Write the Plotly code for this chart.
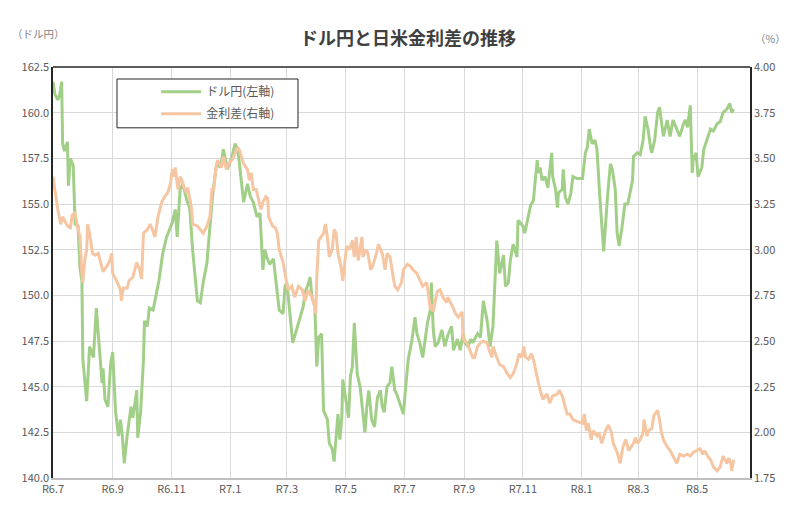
import pandas as pd
import plotly.graph_objects as go

START = "2024-07-01"

# ドル円 (left axis): day offsets from START and values
usd_days = [0, 2, 5, 7, 9, 10, 12, 15, 16, 18, 21, 23, 26, 28, 30, 31, 35, 37, 38, 42, 45, 48, 51, 52, 54, 57,
            60, 62, 65, 68, 70, 72, 74, 77, 81, 83, 87, 88, 91, 94, 95, 98, 100, 104, 108, 110, 114, 118, 124,
            127, 129, 132, 135, 139, 142, 145, 150, 153, 156, 160, 161, 166, 170, 174, 177, 181, 186, 189, 192,
            196, 198, 202, 205, 208, 212, 215, 218, 220, 222, 225, 229, 233, 235, 239, 241, 243, 246, 249, 254,
            257, 260, 262, 265, 267, 269, 272, 274, 276, 279, 281, 285, 287, 290, 292, 295, 296, 298, 300, 301,
            303, 307, 309, 311, 313, 316, 319, 322, 324, 326, 328, 331, 334, 337, 340, 342, 344, 347, 350, 352,
            355, 357, 361, 364, 366, 369, 373, 376, 378, 381, 384, 389, 392, 393, 395, 397, 400, 404, 407, 410,
            414, 416, 420, 423, 426, 428, 431, 434, 436, 441, 444, 447, 451, 454, 457, 459, 461, 464, 468, 470,
            473, 475, 478, 482, 483, 485, 488, 490, 494, 496, 499, 503, 504, 506, 508, 511, 514, 518, 519, 522,
            524, 525, 529, 530, 532, 535, 538, 540, 544, 550, 553, 555, 557, 560, 563, 565, 568, 571, 572, 576,
            579, 581, 584, 586, 588, 591, 594, 597, 602, 603, 607, 610, 613, 615, 618, 621, 622, 625, 628, 630,
            633, 634, 638, 641, 644, 648, 651, 655, 657, 659, 662, 663, 664, 665, 668, 670, 674, 676, 680, 683,
            686, 690, 693, 696, 700, 703, 705, 707]
usd_jpy = [161.7, 161.0, 160.7, 161.0, 161.7, 158.3, 157.9, 158.4, 156.0, 157.5, 157.1, 153.9, 153.8, 151.5,
           150.8, 146.5, 144.2, 146.6, 147.2, 146.6, 149.3, 147.2, 145.2, 146.0, 144.3, 143.9, 146.3, 146.9,
           143.6, 142.3, 143.2, 142.3, 140.8, 142.3, 143.9, 143.3, 144.8, 142.2, 143.6, 146.5, 148.6, 148.3,
           149.3, 149.2, 150.2, 150.8, 152.3, 153.2, 154.0, 154.7, 153.2, 155.8, 156.1, 155.2, 154.8, 152.5,
           149.7, 149.6, 150.7, 151.8, 152.5, 155.6, 157.2, 157.0, 158.0, 156.9, 157.6, 158.3, 158.0, 155.8,
           155.1, 156.1, 155.4, 155.1, 154.3, 154.5, 151.4, 152.5, 152.1, 151.7, 152.0, 150.1, 149.2, 149.0,
           150.5, 150.7, 149.2, 147.4, 148.3, 148.8, 149.4, 150.2, 150.6, 151.0, 149.9, 149.4, 146.1, 147.7,
           147.9, 143.7, 143.2, 141.9, 141.6, 140.9, 143.3, 143.5, 142.1, 143.3, 145.4, 144.6, 143.3, 145.6,
           146.1, 148.5, 145.7, 145.0, 143.7, 142.5, 143.9, 144.8, 143.2, 142.8, 144.4, 144.8, 143.9, 143.6,
           145.0, 145.2, 146.1, 144.8, 144.6, 143.9, 143.5, 144.8, 146.5, 147.6, 148.8, 147.9, 147.4, 146.6,
           148.5, 149.2, 150.7, 148.1, 147.2, 147.4, 148.1, 147.2, 147.8, 148.3, 147.0, 147.6, 147.0, 147.9,
           147.4, 147.2, 147.6, 147.4, 147.9, 147.7, 149.7, 148.6, 147.2, 148.3, 150.7, 153.0, 151.2, 152.2,
           150.5, 150.7, 151.9, 152.8, 152.1, 154.1, 154.0, 153.8, 153.4, 154.5, 154.9, 155.2, 157.4, 156.7,
           157.0, 156.3, 156.5, 155.9, 157.8, 156.5, 155.8, 154.8, 155.6, 155.8, 156.9, 155.4, 155.0, 155.6,
           156.5, 156.4, 156.4, 157.8, 158.1, 159.1, 158.3, 158.5, 158.0, 155.4, 153.2, 152.4, 155.4, 157.2,
           156.9, 155.8, 153.4, 152.7, 153.7, 155.0, 155.0, 156.3, 157.6, 157.8, 157.7, 158.5, 159.8, 159.1,
           158.0, 157.8, 158.5, 160.0, 160.3, 159.2, 158.7, 159.6, 158.7, 159.6, 159.1, 158.7, 159.4, 159.6,
           159.2, 160.4, 158.5, 156.7, 157.4, 157.8, 156.5, 157.0, 158.0, 158.7, 159.1, 159.0, 159.4, 159.5,
           160.0, 160.2, 160.5, 160.0, 160.2]

# 金利差 (right axis): day offsets from START and values (%)
spread_days = [0, 2, 4, 5, 8, 10, 15, 18, 20, 23, 25, 28, 30, 31, 33, 35, 36, 38, 41, 44, 47, 51, 52, 56, 59,
               61, 62, 66, 70, 71, 73, 77, 79, 83, 87, 90, 92, 94, 98, 101, 106, 109, 113, 116, 119, 122, 124,
               125, 127, 129, 130, 132, 134, 136, 139, 140, 142, 144, 145, 150, 153, 156, 160, 163, 165, 167,
               169, 171, 175, 177, 180, 182, 186, 189, 192, 194, 196, 198, 202, 204, 206, 208, 211, 213, 216,
               218, 221, 223, 224, 228, 231, 233, 235, 239, 242, 244, 248, 251, 255, 259, 262, 265, 269, 272,
               273, 274, 276, 281, 283, 285, 287, 290, 292, 294, 296, 299, 301, 303, 305, 308, 311, 313, 315,
               317, 321, 322, 325, 327, 330, 332, 336, 338, 342, 345, 347, 350, 353, 355, 358, 362, 364, 368,
               371, 374, 378, 381, 384, 388, 390, 392, 394, 395, 399, 402, 405, 409, 410, 415, 418, 421, 425,
               426, 430, 433, 436, 438, 441, 444, 447, 451, 453, 456, 457, 461, 464, 468, 472, 475, 478, 482,
               484, 487, 489, 491, 494, 497, 499, 503, 506, 509, 513, 516, 519, 524, 526, 529, 532, 534, 537,
               540, 544, 550, 552, 554, 556, 559, 561, 565, 567, 570, 574, 577, 580, 582, 586, 589, 592, 595,
               598, 603, 605, 607, 610, 613, 614, 617, 619, 622, 624, 628, 630, 632, 634, 638, 641, 644, 648,
               651, 655, 659, 662, 665, 669, 672, 675, 677, 680, 683, 686, 690, 693, 696, 698, 700, 702, 704,
               705, 707]
spread = [3.40, 3.33, 3.25, 3.22, 3.14, 3.18, 3.13, 3.12, 3.19, 3.20, 3.14, 3.07, 2.87, 2.82, 2.94, 3.00,
          3.14, 3.09, 2.98, 2.97, 2.98, 2.91, 2.88, 2.91, 2.94, 2.98, 2.87, 2.83, 2.78, 2.72, 2.79, 2.79, 2.83,
          2.85, 2.93, 2.89, 2.84, 3.09, 3.11, 3.14, 3.07, 3.18, 3.26, 3.29, 3.31, 3.36, 3.44, 3.40, 3.45, 3.36,
          3.33, 3.40, 3.38, 3.34, 3.31, 3.34, 3.29, 3.22, 3.14, 3.13, 3.11, 3.09, 3.13, 3.18, 3.33, 3.33, 3.44,
          3.49, 3.45, 3.51, 3.44, 3.47, 3.49, 3.53, 3.56, 3.54, 3.51, 3.47, 3.44, 3.38, 3.42, 3.33, 3.33, 3.29,
          3.22, 3.26, 3.29, 3.28, 3.18, 3.13, 3.12, 3.09, 3.00, 2.93, 2.83, 2.78, 2.80, 2.74, 2.80, 2.78, 2.72,
          2.78, 2.74, 2.69, 2.65, 2.85, 3.05, 3.09, 3.14, 3.07, 2.96, 3.00, 3.11, 3.09, 2.98, 2.91, 2.83, 2.93,
          3.02, 3.00, 3.05, 2.96, 3.07, 2.94, 3.07, 2.96, 3.00, 2.98, 2.89, 2.91, 2.98, 3.03, 2.98, 2.89, 2.98,
          2.96, 2.87, 2.80, 2.78, 2.82, 2.89, 2.92, 2.91, 2.89, 2.87, 2.83, 2.80, 2.82, 2.76, 2.67, 2.70, 2.66,
          2.77, 2.78, 2.74, 2.71, 2.74, 2.69, 2.65, 2.63, 2.66, 2.51, 2.49, 2.45, 2.41, 2.41, 2.47, 2.49, 2.50,
          2.49, 2.45, 2.41, 2.47, 2.41, 2.37, 2.36, 2.32, 2.30, 2.32, 2.38, 2.43, 2.41, 2.47, 2.41, 2.40, 2.43,
          2.40, 2.30, 2.23, 2.18, 2.21, 2.16, 2.20, 2.21, 2.23, 2.20, 2.14, 2.10, 2.10, 2.07, 2.06, 2.05, 2.10,
          2.01, 2.05, 1.96, 2.01, 1.98, 2.00, 1.94, 2.01, 2.04, 2.00, 1.94, 1.89, 1.83, 1.92, 1.96, 1.90, 1.94,
          1.97, 1.94, 1.96, 2.00, 2.07, 1.98, 2.01, 2.02, 2.09, 2.12, 2.07, 2.00, 1.96, 1.92, 1.90, 1.87, 1.83,
          1.88, 1.87, 1.88, 1.87, 1.89, 1.90, 1.91, 1.88, 1.90, 1.87, 1.85, 1.81, 1.79, 1.81, 1.87, 1.85, 1.83,
          1.86, 1.83, 1.79, 1.85]

tick_dates = ["2024-07-01", "2024-09-01", "2024-11-01", "2025-01-01", "2025-03-01", "2025-05-01",
              "2025-07-01", "2025-09-01", "2025-11-01", "2026-01-01", "2026-03-01", "2026-05-01"]
tick_labels = ["R6.7", "R6.9", "R6.11", "R7.1", "R7.3", "R7.5", "R7.7", "R7.9", "R7.11", "R8.1", "R8.3", "R8.5"]
x_end = "2026-06-25"

start = pd.Timestamp(START)
usd_x = [start + pd.Timedelta(days=d) for d in usd_days]
spread_x = [start + pd.Timedelta(days=d) for d in spread_days]

FONT = "Noto Sans CJK JP"
GRAY = "#595959"
LIGHTGRAY = "#7f7f7f"
GREEN = "#a2cf88"
ORANGE = "#f6c6a3"

fig = go.Figure()
fig.add_trace(go.Scatter(x=usd_x, y=usd_jpy, mode="lines", name="ドル円(左軸)",
                         line=dict(color=GREEN, width=3), legendgroup="a"))
fig.add_trace(go.Scatter(x=spread_x, y=spread, mode="lines", name="金利差(右軸)", yaxis="y2",
                         line=dict(color=ORANGE, width=3), legendgroup="b"))

fig.update_layout(
    width=800, height=513,
    margin=dict(l=53, r=50, t=67, b=35),
    paper_bgcolor="white", plot_bgcolor="white",
    font=dict(family=FONT, size=11, color=GRAY),
    showlegend=True,
    legend=dict(x=0.148, y=0.975, xanchor="left", yanchor="top", bgcolor="rgba(0,0,0,0)",
                borderwidth=0, font=dict(size=12, color=GRAY), tracegroupgap=3,
                traceorder="grouped", itemwidth=40),
    xaxis=dict(type="date", range=[START, x_end], tickvals=tick_dates, ticktext=tick_labels,
               showgrid=True, gridcolor="#d9d9d9", gridwidth=1, ticks="", showline=True,
               linecolor="#bfbfbf", linewidth=2, zeroline=False, tickfont=dict(size=11, color=GRAY)),
    yaxis=dict(range=[140, 162.5], dtick=2.5, tick0=140, tickformat=".1f", showgrid=True,
               gridcolor="#d9d9d9", gridwidth=1, showline=True, linecolor="#262626", linewidth=1.5,
               ticks="", zeroline=False, tickfont=dict(size=11, color=GRAY)),
    yaxis2=dict(range=[1.75, 4.0], dtick=0.25, tick0=1.75, tickformat=".2f", overlaying="y",
                side="right", showgrid=False, showline=True, linecolor="#262626", linewidth=1.5,
                ticks="", zeroline=False, tickfont=dict(size=11, color=GRAY)),
    shapes=[
        dict(type="line", xref="paper", yref="paper", x0=0, x1=1, y0=1, y1=1,
             line=dict(color="#262626", width=1.5)),
        dict(type="rect", xref="paper", yref="paper", x0=0.0918, x1=0.3515, y0=0.852, y1=0.9708,
             line=dict(color="#262626", width=1), fillcolor="white", layer="above"),
    ],
    annotations=[
        dict(text="<b>ドル円と日米金利差の推移</b>", xref="paper", yref="paper", x=0.51, y=1.0,
             yshift=30, xanchor="center", yanchor="middle", showarrow=False,
             font=dict(size=18, color="#404040", family=FONT)),
        dict(text="（ドル円）", xref="paper", yref="paper", x=-0.062, y=1.0, yshift=34,
             xanchor="left", yanchor="middle", showarrow=False, font=dict(size=10.5, color=LIGHTGRAY)),
        dict(text="（%）", xref="paper", yref="paper", x=1.005, y=1.0, yshift=29,
             xanchor="left", yanchor="middle", showarrow=False, font=dict(size=10.5, color=LIGHTGRAY)),
    ],
)

fig.write_html("out.html")
